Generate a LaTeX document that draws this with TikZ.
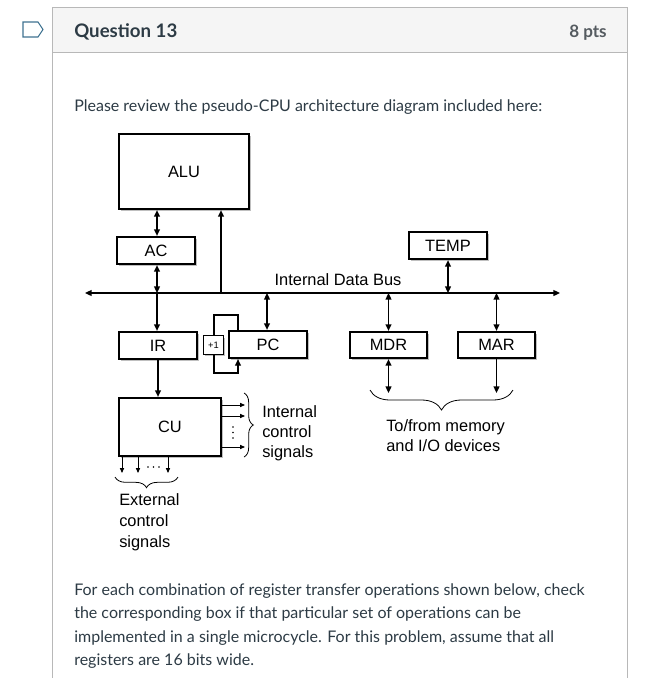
\documentclass[tikz,border=0pt]{standalone}
\usepackage{fontspec}
\setmainfont{Lato}
\newfontfamily\diagfont{Liberation Sans}
\usetikzlibrary{arrows.meta,shadows,decorations.pathreplacing}
\definecolor{canvastext}{HTML}{2D3B45}
\definecolor{ptsgray}{HTML}{555B60}
\definecolor{hdrbg}{HTML}{F5F5F5}
\definecolor{cardborder}{HTML}{B8B8B8}
\definecolor{tagblue}{HTML}{3F7391}
\begin{document}
\begin{tikzpicture}[x=0.75pt,y=-0.75pt,
  box/.style={draw, line width=1.6pt, fill=white, inner sep=0pt,
    font={\diagfont\fontsize{12.3pt}{14pt}\selectfont},
    drop shadow={shadow xshift=1.4pt, shadow yshift=-1.4pt, fill=black, opacity=0.25}},
  smallbox/.style={box, line width=0.9pt, font={\diagfont\fontsize{7pt}{8pt}\selectfont}},
  tip/.tip={Triangle[length=5pt,width=4.4pt]},
  smalltip/.tip={Triangle[length=3.6pt,width=3pt]},
  sar/.style={line width=1.2pt, -tip},
  dar/.style={line width=1.2pt, tip-tip},
  thinar/.style={line width=0.7pt, -smalltip},
  bracestyle/.style={line width=0.6pt, decorate},
  lbl/.style={font={\diagfont\fontsize{12.3pt}{15pt}\selectfont}, align=left, inner sep=0pt},
  body/.style={font={\fontsize{12pt}{17pt}\selectfont}, text=canvastext, inner sep=0pt, anchor=base west},
  dotstyle/.style={fill=black, draw=none, circle, inner sep=0pt, minimum size=1.3pt}
]
\useasboundingbox (0,0) rectangle (664,678);

% card
\fill[white] (0,0) rectangle (664,678);
\path[fill=hdrbg] (52,7) rectangle (627,52);
\draw[cardborder, line width=0.75pt] (52,678) -- (52,7) -- (627,7) -- (627,678);
\draw[cardborder, line width=0.75pt] (52,52) -- (627,52);
\draw[tagblue, line width=0.8pt, line join=miter] (23,22) -- (38,22) -- (43,29.5) -- (38,37) -- (23,37) -- cycle;
\node[anchor=base west, inner sep=0pt, text=canvastext, font={\bfseries\fontsize{14pt}{16pt}\selectfont}] (qtitle) at (74,37.5) {Question 13};
\node[anchor=base east, inner sep=0pt, text=ptsgray, font={\bfseries\fontsize{12.8pt}{16pt}\selectfont}] (qpts) at (607,37.5) {8 pts};

\node[body] (intro) at (74,111) {Please review the pseudo-CPU architecture diagram included here:};

% boxes
\node[box, minimum width=97.5pt, minimum height=56.25pt] (alu) at (184,171.5) {ALU};
\node[box, minimum width=58.5pt, minimum height=20.25pt] (ac) at (156,250.5) {AC};
\node[box, minimum width=58.5pt, minimum height=20.25pt] (temp) at (448,245.5) {TEMP};
\node[box, minimum width=58.5pt, minimum height=20.25pt] (ir) at (158,345.5) {IR};
\node[box, minimum width=58.5pt, minimum height=20.25pt] (pc) at (268,344.5) {PC};
\node[box, minimum width=57.75pt, minimum height=19.5pt] (mdr) at (388.5,345) {MDR};
\node[box, minimum width=57.75pt, minimum height=19.5pt] (mar) at (496.5,345) {MAR};
\node[box, minimum width=76.5pt, minimum height=43.5pt] (cu) at (170,427) {CU};

% bus
\coordinate (busL) at (85,293);
\coordinate (busR) at (560,293);
\draw[dar] (busL) -- (busR);
\node[lbl] (buslbl) at (338,280) {Internal Data Bus};

% connectors
\draw[dar] (157,0 |- alu.south) -- (157,0 |- ac.north);
\draw[dar] (157,0 |- ac.south) -- (157,0 |- busL);
\draw[sar] (157,0 |- busL) -- (157,0 |- ir.north);
\draw[sar] (221,0 |- busL) -- (221,0 |- alu.south);
\draw[dar] (267,0 |- busL) -- (267,0 |- pc.north);
\draw[dar] (temp.south) -- (temp.south |- busL);
\draw[dar] (mdr.north |- busL) -- (mdr.north);
\draw[dar] (mar.north |- busL) -- (mar.north);
\coordinate (mdrout) at (388.5,393);
\coordinate (marout) at (496.5,393);
\draw[dar] (mdr.south) -- (mdrout);
\draw[sar] (mar.south) -- (marout);
\draw[sar] (ir.south) -- (ir.south |- cu.north);

% PC increment loop
\draw[sar, line width=1pt] (238,0 |- pc.north) -- (238,315) -- (214,315) -- (214,373) -- (238,373) -- (238,0 |- pc.south);
\node[smallbox, minimum width=15pt, minimum height=14pt] (inc) at (213.5,345) {+1};

% internal control signals
\coordinate (i1) at (245,405);
\coordinate (i2) at (245,416);
\coordinate (i3) at (245,447);
\draw[thinar] (cu.east |- i1) -- (i1);
\draw[thinar] (cu.east |- i2) -- (i2);
\draw[thinar] (cu.east |- i3) -- (i3);
\node[dotstyle] (iv1) at (233,427) {};
\node[dotstyle] (iv2) at (233,432.5) {};
\node[dotstyle] (iv3) at (233,438) {};
\draw[bracestyle, decoration={brace, amplitude=7pt}] (244,393) -- (244,457);
\node[lbl, anchor=west] (intlbl) at (262,433) {Internal\\control\\signals};

% external control signals
\coordinate (e1) at (122,473);
\coordinate (e2) at (138,473);
\coordinate (e3) at (168,473);
\draw[thinar] (e1 |- cu.south) -- (e1);
\draw[thinar] (e2 |- cu.south) -- (e2);
\draw[thinar] (e3 |- cu.south) -- (e3);
\node[dotstyle] (ed1) at (148,467) {};
\node[dotstyle] (ed2) at (153.5,467) {};
\node[dotstyle] (ed3) at (159,467) {};
\draw[bracestyle, decoration={brace, amplitude=8pt}] (178,477) -- (115,477);
\node[lbl, anchor=west, font={\diagfont\fontsize{12.3pt}{15.75pt}\selectfont}] (extlbl) at (119,522) {External\\control\\signals};

% memory brace
\draw[bracestyle, decoration={brace, amplitude=15pt}] (513,390) -- (370,390);
\node[lbl, anchor=west] (memlbl) at (386,436) {To/from memory\\and I/O devices};

% bottom paragraph
\node[body] (p1) at (74,595) {For each combination of register transfer operations shown below, check};
\node[body] (p2) at (74,618.5) {the corresponding box if that particular set of operations can be};
\node[body] (p3) at (74,642) {implemented in a single microcycle. For this problem, assume that all};
\node[body] (p4) at (74,665) {registers are 16 bits wide.};
\end{tikzpicture}
\end{document}
